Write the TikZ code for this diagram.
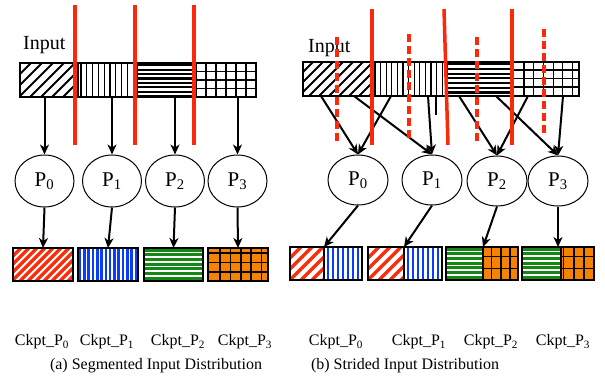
\documentclass[tikz,border=0pt]{standalone}
\usepackage{fontspec}
\setmainfont{Liberation Serif}
\usetikzlibrary{fit,shapes.geometric,arrows.meta}
\definecolor{cutred}{RGB}{252,40,12}
\definecolor{hred}{RGB}{250,45,10}
\definecolor{hblue}{RGB}{10,60,250}
\definecolor{hgreen}{RGB}{20,135,20}
\definecolor{horange}{RGB}{245,130,0}
% diagonal hatch: x1 y1 x2 y2 style spacing
\newcommand\HatchD[6]{\begin{scope}\clip (#1,#2) rectangle (#3,#4);
 \foreach \i in {0,...,40} \draw[#5] ({#1-(#4-#2)+\i*#6},#4) -- ++({#4-#2},{-(#4-#2)});
 \end{scope}}
% vertical lines: x1 y1 x2 y2 style first spacing
\newcommand\HatchV[7]{\begin{scope}\clip (#1,#2) rectangle (#3,#4);
 \foreach \i in {0,...,40} \draw[#5] ({#6+\i*#7},#2) -- ++(0,{#4-#2});
 \end{scope}}
% horizontal lines: x1 y1 x2 y2 style first spacing
\newcommand\HatchH[7]{\begin{scope}\clip (#1,#2) rectangle (#3,#4);
 \foreach \i in {0,...,20} \draw[#5] (#1,{#6+\i*#7}) -- ++({#3-#1},0);
 \end{scope}}
\tikzset{
 seg/.style={draw, line width=1.2pt, inner sep=0pt, outer sep=0pt},
 proc/.style={ellipse, draw, line width=1pt, minimum width=59pt, minimum height=52pt, inner sep=0pt, font=\fontsize{21}{21}\selectfont},
 arr/.style={-{Stealth[length=10pt,width=9pt,inset=3pt]}, line width=2pt},
 stub/.style={line width=2pt},
 cut/.style={cutred, line width=3.5pt},
 cutd/.style={cutred, line width=3.5pt, dash pattern=on 8pt off 4pt},
 lbl/.style={font=\fontsize{16}{16}\selectfont, inner sep=0pt},
 captxt/.style={font=\fontsize{16}{16}\selectfont, inner sep=0pt},
 ttl/.style={font=\fontsize{20}{20}\selectfont, inner sep=0pt, anchor=base west},
}
\begin{document}
\begin{tikzpicture}[x=1pt,y=-1pt]
\useasboundingbox (0,0) rectangle (605,381);
% ================= (a) segmented =================
\node[ttl] (inl) at (23,49) {Input};
\HatchD{20}{63}{78}{97}{line width=2pt}{11}
\HatchV{78}{63}{137}{97}{line width=1.1pt}{81}{5.8}
\HatchH{137}{63}{196}{97}{line width=2.2pt}{65.2}{4.4}
\HatchV{196}{63}{256}{97}{line width=1.1pt}{206}{10}
\HatchH{196}{63}{256}{97}{line width=1.1pt}{71.5}{8.5}
\node[seg, fit={(20,63) (78,97)}] (ls1) {};
\node[seg, fit={(78,63) (137,97)}] (ls2) {};
\node[seg, fit={(137,63) (196,97)}] (ls3) {};
\node[seg, fit={(196,63) (256,97)}] (ls4) {};

\node[proc] (p0) at (44.5,181) {P\textsubscript{0}};
\node[proc] (p1) at (112,181) {P\textsubscript{1}};
\node[proc] (p2) at (175,181) {P\textsubscript{2}};
\node[proc] (p3) at (237.5,181) {P\textsubscript{3}};

\HatchD{13}{248}{73}{281}{hred,line width=3.5pt}{8}
\HatchV{78}{248}{138}{281}{hblue,line width=2.6pt}{80}{4.3}
\HatchH{144}{248}{203}{281}{hgreen,line width=3pt}{250}{4.7}
\fill[horange] (208,248) rectangle (268,281);
\HatchV{208}{248}{268}{281}{line width=1.5pt}{220}{10.4}
\HatchH{208}{248}{268}{281}{line width=1.5pt}{253}{9.6}
\node[seg, line width=1.5pt, fit={(13,248) (73,281)}] (lb1) {};
\node[seg, line width=1.5pt, fit={(78,248) (138,281)}] (lb2) {};
\node[seg, line width=1.5pt, fit={(144,248) (203,281)}] (lb3) {};
\node[seg, line width=1.5pt, fit={(208,248) (268,281)}] (lb4) {};

\draw[arr] (ls1.south -| p0.north) -- (p0.north);
\draw[arr] (ls2.south -| p1.north) -- (p1.north);
\draw[arr] (ls3.south -| p2.north) -- (p2.north);
\draw[arr] (ls4.south -| p3.north) -- (p3.north);
\draw[arr] (p0.south) -- (lb1.north);
\draw[arr] (p1.south) -- (lb2.north);
\draw[arr] (p2.south) -- (lb3.north);
\draw[arr] (p3.south) -- (lb4.north);

\node[lbl] (cl0) at (42,342) {Ckpt\_P\textsubscript{0}};
\node[lbl] (cl1) at (107,342) {Ckpt\_P\textsubscript{1}};
\node[lbl] (cl2) at (178,342) {Ckpt\_P\textsubscript{2}};
\node[lbl] (cl3) at (245,342) {Ckpt\_P\textsubscript{3}};
\node[captxt] (capa) at (156,366) {(a) Segmented Input Distribution};

\draw[cut] (75,5) -- (75,145);
\draw[cut] (135,5) -- (135,145);
\draw[cut] (194,5) -- (194,145);

% ================= (b) strided =================
\node[ttl] (inr) at (308,52) {Input};
\HatchD{303}{62}{371}{96}{line width=1.9pt}{10}
\HatchV{371}{62}{447}{96}{line width=1.1pt}{375}{5.6}
\HatchH{447}{62}{513}{96}{line width=2.2pt}{64.2}{4.7}
\HatchV{513}{62}{579}{96}{line width=1.1pt}{524}{9.7}
\HatchH{513}{62}{579}{96}{line width=1.1pt}{70}{8.5}
\node[seg, fit={(303,62) (371,96)}] (rs1) {};
\node[seg, fit={(371,62) (447,96)}] (rs2) {};
\node[seg, fit={(447,62) (513,96)}] (rs3) {};
\node[seg, fit={(513,62) (579,96)}] (rs4) {};

\node[proc, minimum width=60pt, minimum height=50pt] (q0) at (358,180) {P\textsubscript{0}};
\node[proc, minimum width=60pt, minimum height=50pt] (q1) at (432,180) {P\textsubscript{1}};
\node[proc, minimum width=60pt, minimum height=50pt] (q2) at (497,181) {P\textsubscript{2}};
\node[proc, minimum width=60pt, minimum height=50pt] (q3) at (558,181) {P\textsubscript{3}};

% bottom split boxes
\HatchD{290}{247}{324}{280}{hred,line width=3.3pt}{11}
\HatchV{324}{247}{362}{280}{hblue,line width=1.4pt}{328}{5}
\HatchD{368}{247}{404}{280}{hred,line width=3.3pt}{11}
\HatchV{404}{247}{442}{280}{hblue,line width=1.4pt}{408}{5}
\HatchH{446}{247}{483}{280}{hgreen,line width=3pt}{249}{4.7}
\fill[horange] (483,247) rectangle (518,280);
\HatchV{483}{247}{518}{280}{line width=1.5pt}{491.7}{9.1}
\HatchH{483}{247}{518}{280}{line width=1.5pt}{256.7}{11.6}
\HatchH{522}{247}{561}{280}{hgreen,line width=3pt}{249}{4.7}
\fill[horange] (561,247) rectangle (594,280);
\HatchV{561}{247}{594}{280}{line width=1.5pt}{563.5}{10.3}
\HatchH{561}{247}{594}{280}{line width=1.5pt}{256.7}{11.6}
\node[seg, line width=1.4pt, fit={(290,247) (324,280)}] (rb1a) {};
\node[seg, line width=1.4pt, fit={(324,247) (362,280)}] (rb1b) {};
\node[seg, line width=1.4pt, fit={(368,247) (404,280)}] (rb2a) {};
\node[seg, line width=1.4pt, fit={(404,247) (442,280)}] (rb2b) {};
\node[seg, line width=1.4pt, fit={(446,247) (483,280)}] (rb3a) {};
\node[seg, line width=1.4pt, fit={(483,247) (518,280)}] (rb3b) {};
\node[seg, line width=1.4pt, fit={(522,247) (561,280)}] (rb4a) {};
\node[seg, line width=1.4pt, fit={(561,247) (594,280)}] (rb4b) {};

\coordinate (s1) at (321,96);
\coordinate (s2) at (354,96);
\coordinate (s3) at (391,96);
\coordinate (s4) at (428,96);
\coordinate (s5) at (436,96);
\coordinate (s5e) at (436,115);
\coordinate (s6) at (459,96);
\coordinate (s7) at (496,96);
\coordinate (s8) at (528,96);
\coordinate (s9) at (563,96);
\draw[arr] (s1) -- (q0.north);
\draw[arr] (s2) -- (q1.north);
\draw[arr] (s3) -- (q0.north);
\draw[arr] (s4) -- (q1.north);
\draw[stub] (s5) -- (s5e);
\draw[arr] (s6) -- (q2.north);
\draw[arr] (s7) -- (q3.north);
\draw[arr] (s8) -- (q2.north);
\draw[arr] (s9) -- (q3.north);
\draw[arr] (q0.south) -- (rb1a.north east);
\draw[arr] (q1.south) -- (rb2a.north east);
\draw[arr] (q2.south) -- (rb3a.north east);
\draw[arr] (q3.south) -- (q3.south |- rb4a.north);

\node[lbl] (cr0) at (336,342) {Ckpt\_P\textsubscript{0}};
\node[lbl] (cr1) at (419,342) {Ckpt\_P\textsubscript{1}};
\node[lbl] (cr2) at (491,342) {Ckpt\_P\textsubscript{2}};
\node[lbl] (cr3) at (563,342) {Ckpt\_P\textsubscript{3}};
\node[captxt] (capb) at (405,366) {(b) Strided Input Distribution};

\draw[cut] (372,9) -- (372,145);
\draw[cut] (444,9) -- (448,145);
\draw[cut] (512,9) -- (512,145);
\draw[cutd] (337,37) -- (337,141);
\draw[cutd] (409,34) -- (409,138);
\draw[cutd] (477,37) -- (477,141);
\draw[cutd] (544,29) -- (544,133);
\end{tikzpicture}
\end{document}
